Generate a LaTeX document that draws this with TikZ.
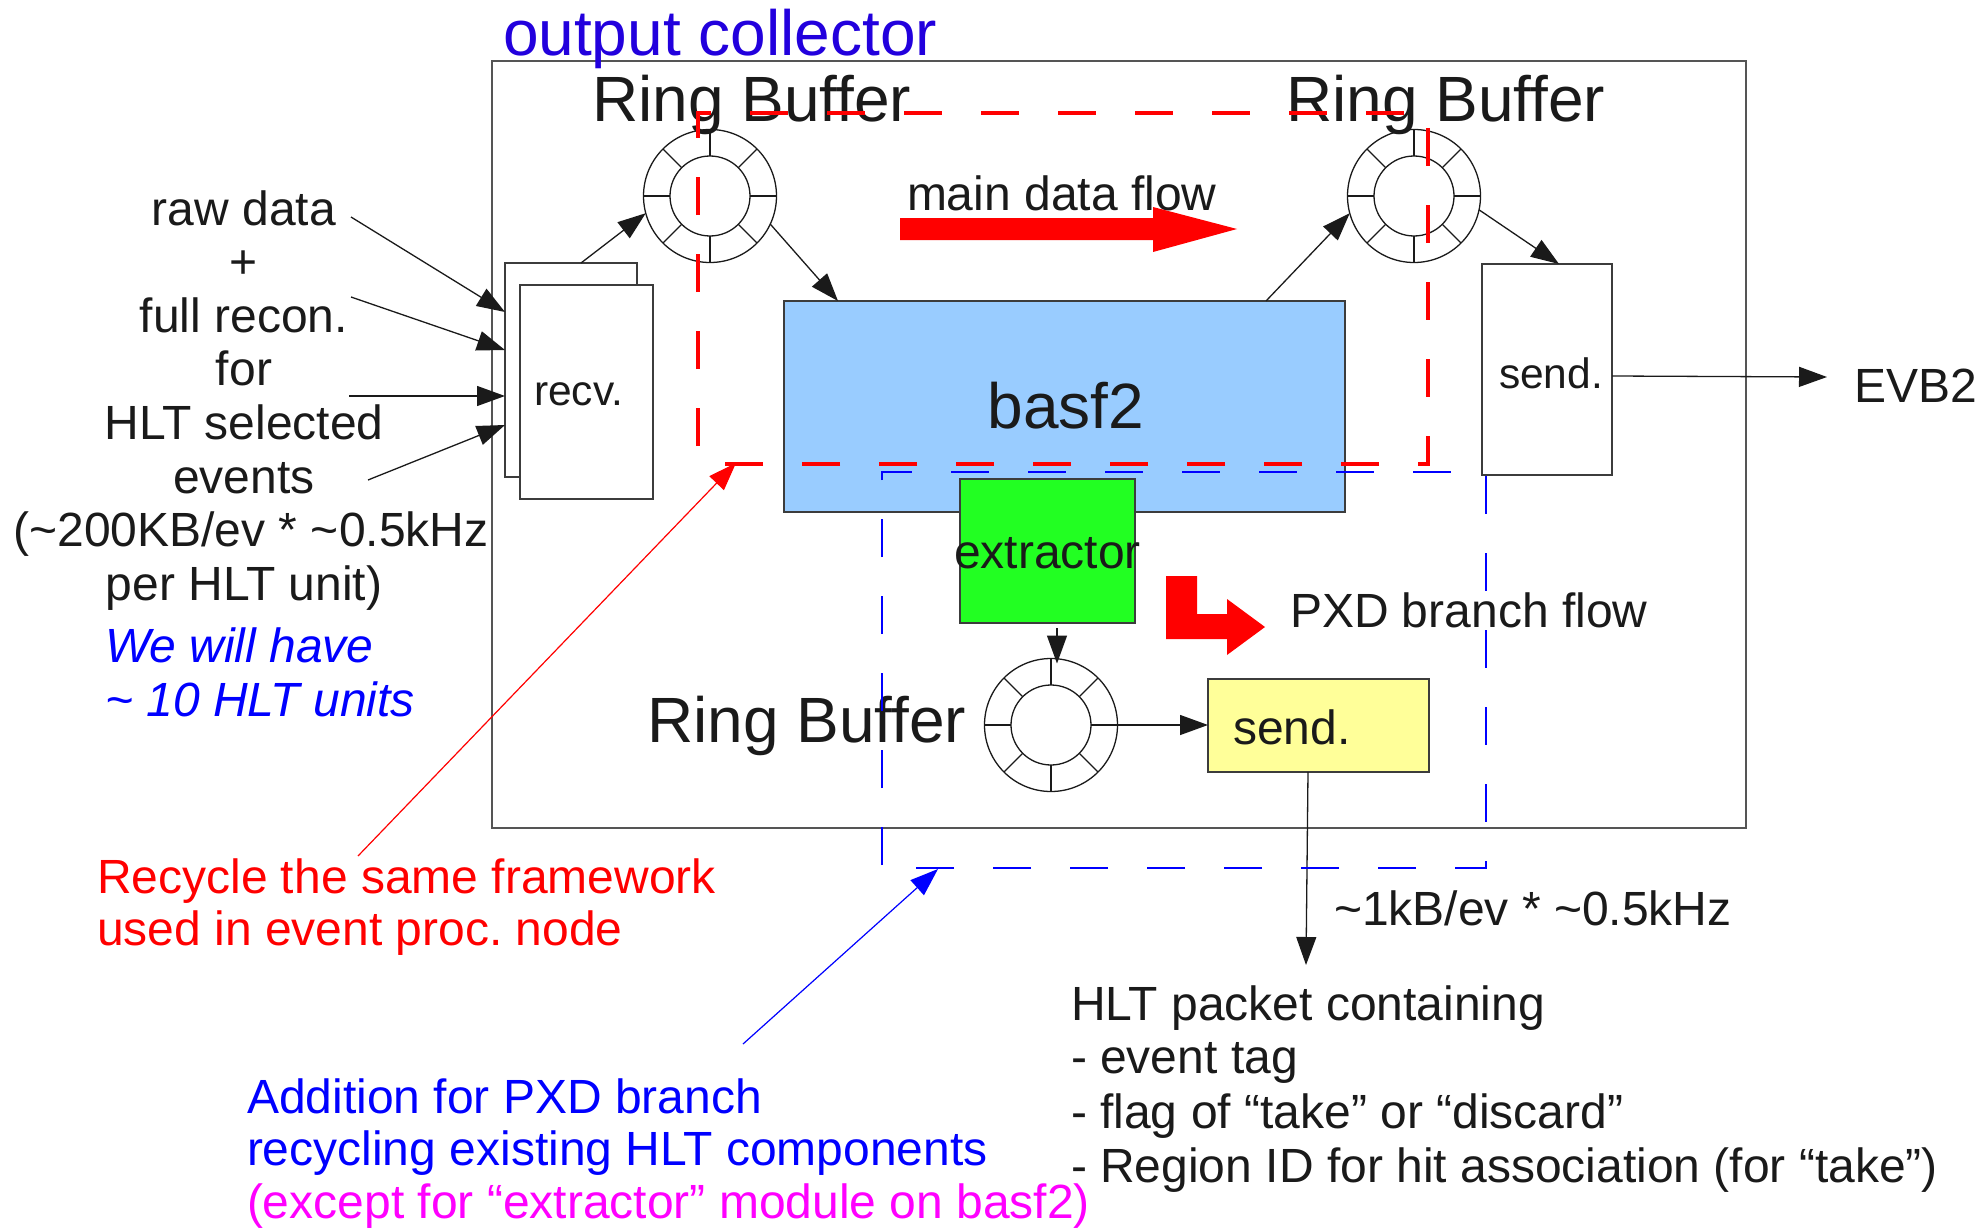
\documentclass[tikz,border=0pt]{standalone}
\usepackage{fontspec}
\setmainfont{Liberation Sans}
\usetikzlibrary{arrows.meta,calc}
\frenchspacing

\definecolor{ink}{HTML}{1A1A1A}
\definecolor{framegray}{HTML}{555555}
\definecolor{titleblue}{RGB}{34,0,221}
\definecolor{noteblue}{HTML}{0000FF}
\definecolor{flowred}{HTML}{FF0000}
\definecolor{notemagenta}{HTML}{FF00FF}
\definecolor{basfblue}{HTML}{99CCFF}
\definecolor{extgreen}{HTML}{22FF22}
\definecolor{sendyellow}{HTML}{FFFF99}

\newcommand{\fnorm}{\fontsize{48pt}{53.6pt}\selectfont}
\newcommand{\fbig}{\fontsize{64pt}{70pt}\selectfont}
\newcommand{\fsmall}{\fontsize{42.5pt}{46pt}\selectfont}

\begin{document}
\begin{tikzpicture}[x=1pt,y=-1pt,
  txt/.style={inner sep=0pt, outer sep=0pt, anchor=base west, text=ink, font=\fnorm},
  ctxt/.style={txt, anchor=base},
  boxw/.style={draw=ink!85, line width=1.5pt, fill=white, inner sep=0pt, outer sep=0pt},
  conn/.style={draw=ink, line width=1.3pt, -{Triangle[length=28pt,width=20pt]}},
  pics/ringbuf/.style={code={
    \node[circle, draw=ink, line width=1.3pt, minimum size=133pt, inner sep=0pt, outer sep=0pt] (-out) {};
    \draw[ink, line width=1.3pt] (0,0) circle[radius=40];
    \foreach \a in {0,45,...,315} \draw[ink, line width=1.3pt] (\a:40) -- (\a:66.5);
  }}
]
\useasboundingbox (0,0) rectangle (1982,1228);

% output collector frame
\node[draw=framegray, line width=1.8pt, minimum width=1254pt, minimum height=767pt,
      inner sep=0pt, outer sep=0pt] (collector) at (1119,444.5) {};
\node[txt, font=\fbig, text=titleblue] (colltitle) at (503,56) {output collector};

% receivers
\node[boxw, minimum width=132pt, minimum height=214pt] (recvback) at (571,370) {};
\node[boxw, minimum width=133pt, minimum height=214pt] (recvfront) at (586.5,392) {};
\node[txt, font=\fsmall] (recvlbl) at (534,405) {recv.};

% basf2 and extractor
\node[boxw, fill=basfblue, minimum width=561pt, minimum height=211pt] (basf) at (1064.5,406.5) {};
\node[ctxt, font=\fbig] (basflbl) at (1066,428) {basf2};
\node[boxw, fill=extgreen, minimum width=175pt, minimum height=144pt] (extr) at (1047.5,551) {};
\node[ctxt] (extrlbl) at (1047.5,568) {extractor};

% PXD sender
\node[boxw, fill=sendyellow, minimum width=221pt, minimum height=93pt] (send2) at (1318.5,725.5) {};
\node[txt] (send2lbl) at (1233,744) {send.};

% ring buffers
\pic (rb1) at (710,196) {ringbuf};
\pic (rb2) at (1414,196) {ringbuf};
\pic (rb3) at (1051,725) {ringbuf};
\node[txt, font=\fbig] (rb1lbl) at (592,122) {Ring Buffer};
\node[txt, font=\fbig] (rb2lbl) at (1286,122) {Ring Buffer};
\node[txt, font=\fbig] (rb3lbl) at (647,742) {Ring Buffer};

% flow markers
\node[txt] (mainflow) at (907,210) {main data flow};
\fill[flowred] (900,218) -- (1153,218) -- (1153,207) -- (1237,229) -- (1153,252)
  -- (1153,240) -- (900,240) -- cycle;
\fill[flowred] (1166,576) -- (1197,576) -- (1197,614) -- (1227,614) -- (1227,599)
  -- (1265,627) -- (1227,655) -- (1227,639) -- (1166,639) -- cycle;
\node[txt] (pxdflow) at (1290,627) {PXD branch flow};

% input description
\node[ctxt] (src1) at (244,225) {raw data};
\node[ctxt] (src2) at (244,278.6) {+};
\node[ctxt] (src3) at (244,332.2) {full recon.};
\node[ctxt] (src4) at (244,385.8) {for};
\node[ctxt] (src5) at (244,439.4) {HLT selected};
\node[ctxt] (src6) at (244,493) {events};
\node[ctxt] (src7) at (251,546.6) {(\textasciitilde200KB/ev * \textasciitilde0.5kHz};
\node[ctxt] (src8) at (244,600.2) {per HLT unit)};
\node[txt, text=noteblue, font=\fnorm\itshape] (units1) at (105,662) {We will have};
\node[txt, text=noteblue, font=\fnorm\itshape] (units2) at (105,716) {\textasciitilde{} 10 HLT units};

% free ends of connectors
\coordinate (in1s) at (351,217);
\coordinate (in2s) at (351,297);
\coordinate (in3s) at (349,396);
\coordinate (in4s) at (368,480);
\coordinate (evbin) at (1827,377);
\coordinate (pktin) at (1306,965);
\coordinate (recycs) at (358,856);
\coordinate (recyce) at (736,463);
\coordinate (addns) at (743,1044);
\coordinate (addne) at (938,869);

% main data path
\draw[conn] (in1s) -- (recvback.west |- 0,312);
\draw[conn] (in2s) -- (recvback.west |- 0,350);
\draw[conn] (in3s) -- (recvback.west |- 0,396);
\draw[conn] (in4s) -- (recvback.west |- 0,425);
\draw[conn] (581,0 |- recvback.north) -- (rb1-out.195);
\draw[conn] (rb1-out.335) -- (838,0 |- basf.north);
\draw[conn] (1266,0 |- basf.north) -- (rb2-out.195);

% PXD branch path
\draw[conn] ($(extr.south)+(9.5,5)$) -- ($(rb3-out.north)+(6,5)$);
\draw[conn] (rb3-out.east) -- (send2.west |- rb3-out.east);
\draw[conn] (1308,0 |- send2.south) -- (pktin);

% reused framework and added components
\draw[flowred, line width=3.2pt, dash pattern=on 38pt off 39pt, dash phase=59pt]
  (698,464) -- (698,113) -- (1428,113) -- (1428,464) -- cycle;
\draw[noteblue, line width=1.3pt, dash pattern=on 38pt off 39pt, dash phase=74pt]
  (882,868) -- (882,472) -- (1486,472) -- (1486,868) -- cycle;

% output sender
\node[boxw, minimum width=130pt, minimum height=211pt] (send1) at (1547,369.5) {};
\node[txt, font=\fsmall] (send1lbl) at (1499,388) {send.};
\draw[conn] (rb2-out.348) -- (1559,0 |- send1.north);
\draw[conn] (send1.east |- 0,376) -- (evbin);
\node[txt] (evb) at (1854,402) {EVB2};

% annotations
\node[txt] (rate) at (1334,925) {\textasciitilde1kB/ev * \textasciitilde0.5kHz};
\node[txt] (pkt1) at (1071,1020) {HLT packet containing};
\node[txt] (pkt2) at (1071,1073) {- event tag};
\node[txt] (pkt3) at (1071,1128) {- flag of “take” or “discard”};
\node[txt] (pkt4) at (1071,1182) {- Region ID for hit association (for “take”)};

\node[txt, text=flowred] (recyc1) at (97,893) {Recycle the same framework};
\node[txt, text=flowred] (recyc2) at (97,945) {used in event proc. node};
\draw[draw=flowred, line width=1.2pt, -{Triangle[length=28pt,width=20pt]}] (recycs) -- (recyce);

\node[txt, text=noteblue] (addn1) at (247,1113) {Addition for PXD branch};
\node[txt, text=noteblue] (addn2) at (247,1165) {recycling existing HLT components};
\node[txt, text=notemagenta] (addn3) at (247,1218) {(except for “extractor” module on basf2)};
\draw[draw=noteblue, line width=1.2pt, -{Triangle[length=28pt,width=20pt]}] (addns) -- (addne);
\end{tikzpicture}
\end{document}
